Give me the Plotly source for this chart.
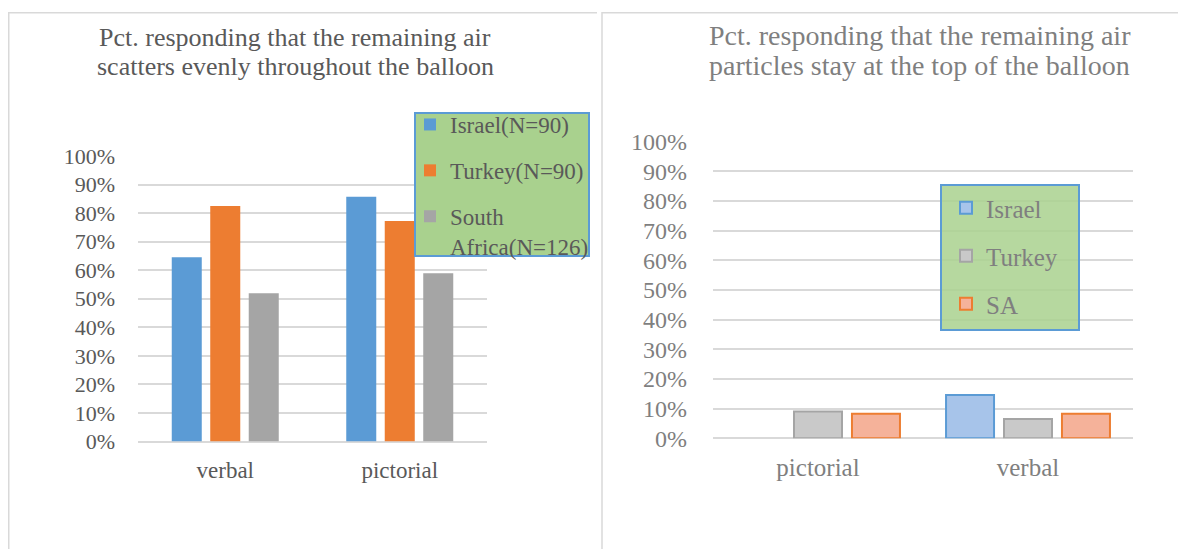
import plotly.graph_objects as go

# ---------------- data ----------------
left_categories = ["verbal", "pictorial"]
left_names = ["Israel(N=90)", "Turkey(N=90)", "South<br>Africa(N=126)"]
left_israel = [0.645, 0.857]
left_turkey = [0.825, 0.772]
left_sa = [0.519, 0.589]

right_categories = ["pictorial", "verbal"]
right_names = ["Israel", "Turkey", "SA"]
right_israel = [None, 0.146]
right_turkey = [0.090, 0.065]
right_sa = [0.083, 0.083]

left_title_lines = ["Pct. responding that the remaining air",
                    "scatters evenly throughout the balloon"]
right_title_lines = ["Pct. responding that the remaining air",
                     "particles stay at the top of the balloon"]

# ---------------- helpers ----------------
W, H = 1186, 549
OFF = 8  # page body margin


def px(x):
    return (x - OFF) / W


def py(y):
    return 1 - (y - OFF) / H


FONT = "Liberation Serif, Times New Roman, serif"
DARK = "#595959"
LIGHT = "#7f7f7f"
GRID = "#d9d9d9"

fig = go.Figure()

# left chart bars
left_colors = ["#5b9bd5", "#ed7d31", "#a5a5a5"]
left_vals = [left_israel, left_turkey, left_sa]
lw, lslot = 0.172, 0.2206
for i, (name, vals, col) in enumerate(zip(left_names, left_vals, left_colors)):
    fig.add_trace(go.Bar(
        x=left_categories, y=vals, name=name,
        marker=dict(color=col, line=dict(width=0)),
        width=lw, offset=(i - 1) * lslot - lw / 2,
        xaxis="x", yaxis="y", legend="legend", legendgroup="L%d" % i,
        hovertemplate="%{x}: %{y:.0%}<extra></extra>",
    ))

# right chart bars
right_fill = ["#a7c4ea", "#c9c9c9", "#f5b29a"]
right_line = ["#5b9bd5", "#a5a5a5", "#ed7d31"]
right_vals = [right_israel, right_turkey, right_sa]
rw, rslot = 0.2286, 0.276
for i, (name, vals, fc, lc) in enumerate(zip(right_names, right_vals, right_fill, right_line)):
    fig.add_trace(go.Bar(
        x=right_categories, y=vals, name=name,
        marker=dict(color=fc, line=dict(color=lc, width=2)),
        width=rw, offset=(i - 1) * rslot - rw / 2,
        xaxis="x2", yaxis="y2", legend="legend2", legendgroup="R%d" % i,
        hovertemplate="%{x}: %{y:.0%}<extra></extra>",
    ))

yaxis_common = dict(range=[0, 1], dtick=0.1, tickformat=".0%", showgrid=True,
                    gridcolor=GRID, gridwidth=2, zeroline=True, zerolinecolor=GRID,
                    zerolinewidth=2, showline=False, ticks="", fixedrange=True,
                    automargin=False)

fig.update_layout(
    width=W, height=H,
    margin=dict(l=0, r=0, t=0, b=0, pad=0, autoexpand=False),
    paper_bgcolor="white", plot_bgcolor="white",
    barmode="overlay",
    font=dict(family=FONT, size=22, color=DARK),
    xaxis=dict(domain=[px(138), px(487)], type="category", showgrid=False,
               showline=False, ticks="", ticklabelstandoff=12, automargin=False,
               tickfont=dict(size=23, color=DARK), fixedrange=True),
    yaxis=dict(domain=[py(441.5), py(156)], ticklabelstandoff=22,
               tickfont=dict(size=22, color=DARK), **yaxis_common),
    xaxis2=dict(domain=[px(713), px(1133)], type="category", showgrid=False,
                showline=False, ticks="", ticklabelstandoff=12, anchor="y2",
                automargin=False, tickfont=dict(size=25, color=LIGHT), fixedrange=True),
    yaxis2=dict(domain=[py(438.3), py(141.7)], anchor="x2", ticklabelstandoff=25,
                tickfont=dict(size=24, color=LIGHT), **yaxis_common),
    legend=dict(x=px(410), y=py(103), xanchor="left", yanchor="top",
                bgcolor="rgba(0,0,0,0)", borderwidth=0, traceorder="grouped",
                tracegroupgap=13, valign="top",
                font=dict(family=FONT, size=23, color=DARK)),
    legend2=dict(x=px(946), y=py(185), xanchor="left", yanchor="top",
                 bgcolor="rgba(0,0,0,0)", borderwidth=0, traceorder="grouped",
                 tracegroupgap=12.5, valign="middle",
                 font=dict(family=FONT, size=25, color=LIGHT)),
    showlegend=True,
)

# panel frames and legend boxes
shapes = [
    dict(type="line", xref="paper", yref="paper", x0=px(8.75), x1=px(8.75), y0=py(12), y1=py(570),
         line=dict(color=GRID, width=1.5)),
    dict(type="line", xref="paper", yref="paper", x0=px(8), x1=px(597), y0=py(12.75), y1=py(12.75),
         line=dict(color=GRID, width=1.5)),
    dict(type="line", xref="paper", yref="paper", x0=px(602), x1=px(602), y0=py(12), y1=py(570),
         line=dict(color=GRID, width=1.5)),
    dict(type="line", xref="paper", yref="paper", x0=px(602), x1=px(1200), y0=py(12.75), y1=py(12.75),
         line=dict(color=GRID, width=1.5)),
    dict(type="rect", xref="paper", yref="paper", x0=px(415), x1=px(589), y0=py(113), y1=py(256),
         fillcolor="#a9d18e", line=dict(color="#5b9bd5", width=2), layer="above"),
    dict(type="rect", xref="paper", yref="paper", x0=px(941), x1=px(1079), y0=py(185), y1=py(330),
         fillcolor="rgba(169,209,142,0.85)", line=dict(color="#5b9bd5", width=2), layer="above"),
]
fig.update_layout(shapes=shapes)

for line_text, yc in zip(left_title_lines, [37, 66]):
    fig.add_annotation(text=line_text, x=px(295), y=py(yc), xref="paper", yref="paper",
                       xanchor="center", yanchor="middle", showarrow=False,
                       font=dict(family=FONT, size=26, color=DARK))
for line_text, yc in zip(right_title_lines, [36, 65]):
    fig.add_annotation(text=line_text, x=px(920), y=py(yc), xref="paper", yref="paper",
                       xanchor="center", yanchor="middle", showarrow=False,
                       font=dict(family=FONT, size=28, color=LIGHT))

fig.write_html("out.html")
